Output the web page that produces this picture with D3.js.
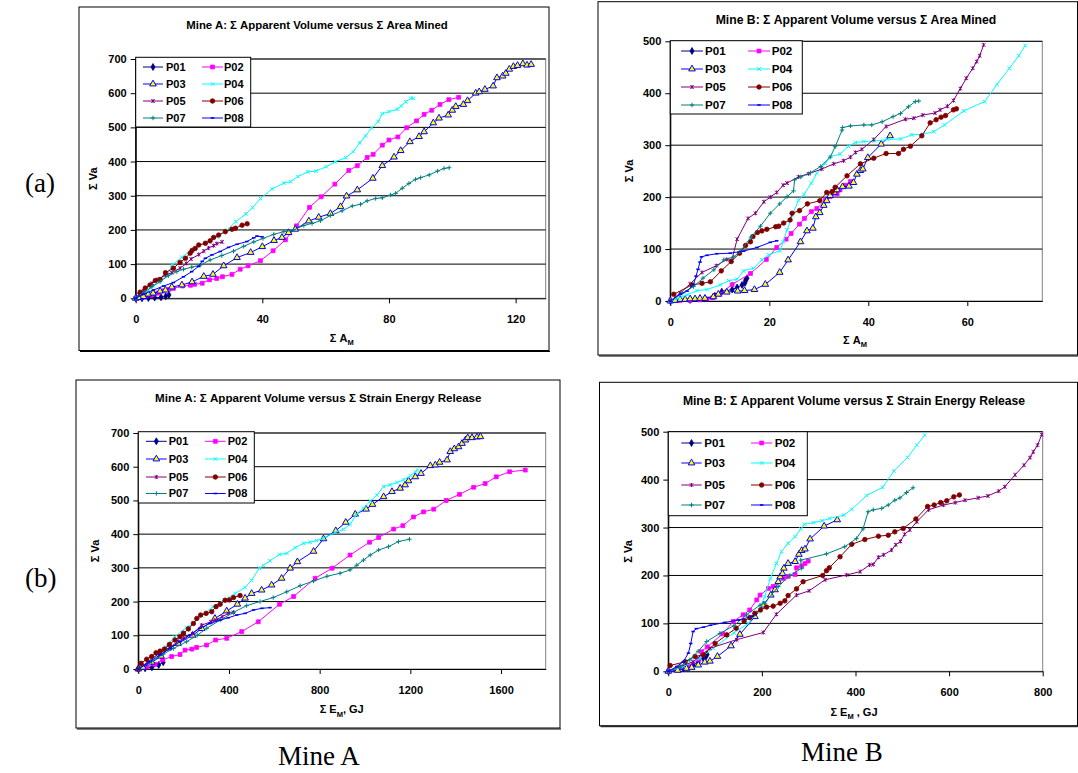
<!DOCTYPE html>
<html>
<head>
<meta charset="utf-8">
<script src="https://cdn.jsdelivr.net/npm/d3@7"></script>
<style>
body { margin: 0; background: #fff; }
svg { display: block; font-family: "Liberation Sans", Arial, sans-serif; }
</style>
</head>
<body>
<script>
// series names (same 8 panels in every chart)
var seriesNames = ["P01", "P02", "P03", "P04", "P05", "P06", "P07", "P08"];

// tick labels
var yTicksMineA = [0, 100, 200, 300, 400, 500, 600, 700];
var yTicksMineB = [0, 100, 200, 300, 400, 500];
var xTicksAreaA = [0, 40, 80, 120];
var xTicksAreaB = [0, 20, 40, 60];
var xTicksEnergyA = [0, 400, 800, 1200, 1600];
var xTicksEnergyB = [0, 200, 400, 600, 800];

// Mine A: cumulative apparent volume vs cumulative area mined
var mineA_area_P01 = [[0,0],[2,0],[4,1],[6,2],[8,3],[9.5,6],[10.5,10]];
var mineA_area_P02 = [[0,0],[1.5,2],[3,4],[5.2,10],[7,15],[8.8,22],[10.5,26],[11.9,29],[14.8,36],[17.3,38],[18.6,41],[21,44],[23.3,54],[25.6,58],[27.4,63],[30.4,70],[33,85],[35.5,95],[39.4,110],[43.4,139],[47.3,171],[50.8,212],[54.9,266],[58.6,297],[62.9,334],[67.3,374],[70,388],[73.1,412],[75,421],[77.9,448],[80,463],[82.8,472],[85.6,499],[88.7,519],[91.1,538],[93.5,550],[96.1,567],[98.9,581],[102,588]];
var mineA_area_P03 = [[0,0],[1,2],[2.5,5],[4,12],[5.5,15],[7.7,21],[9.4,24],[11.4,33],[14.6,39],[17.8,48],[21.5,64],[24.4,70],[27.8,95],[32,119],[36.3,134],[40,151],[43.7,169],[46.2,178],[48.3,192],[50.4,202],[54.7,226],[57.8,237],[61.5,248],[64.7,268],[66.6,299],[70,317],[74.9,351],[77.9,388],[81.6,413],[83.7,432],[86.6,458],[89.5,473],[91.1,487],[94,513],[95.8,527],[98.7,536],[100,550],[101.1,561],[103.5,567],[104.8,578],[107.4,600],[108.5,604],[110.3,611],[112.9,621],[114.1,645],[115.9,650],[116.9,658],[118,670],[119.3,678],[120.6,681],[122.3,686],[123.6,682],[124.9,684]];
var mineA_area_P04 = [[0,0],[1.5,8],[3.5,19],[5.5,35],[7.7,49],[9.8,68],[11.5,97],[14.6,120],[18.3,146],[22,162],[25.6,180],[28.8,199],[31.6,224],[34.8,247],[36.9,265],[39.4,292],[43.1,320],[46.8,337],[48.9,341],[51.2,356],[54.4,370],[56.9,372],[60.2,385],[62.9,399],[66.3,411],[68.7,429],[70.8,455],[72.6,475],[74.5,498],[76.6,517],[77.9,540],[80,546],[82.6,553],[83.9,563],[85.3,575],[86.9,585],[87.7,585]];
var mineA_area_P05 = [[0,0],[1,10],[2.5,22],[5.2,44],[7,55],[9.4,68],[11.4,75],[14,88],[16,102],[17.5,115],[19.9,128],[21.5,138],[23,147],[24.6,154],[25.6,160],[27.3,165]];
var mineA_area_P06 = [[1.4,18],[3,30],[4.5,39],[6.2,52],[7.7,55],[9.4,75],[11.9,88],[14,105],[15.7,117],[17.2,132],[17.8,140],[18.8,146],[19.9,156],[22,161],[23.5,168],[24.6,178],[26.2,185],[28.3,195],[30.4,202],[31.5,205],[33.6,214],[35.2,218]];
var mineA_area_P07 = [[0,0],[2.4,15],[5.1,34],[7.7,49],[10.3,66],[13,78],[15.1,85],[17.7,91],[20.4,97],[23.5,112],[27.2,125],[30.9,138],[34.1,152],[37.3,165],[40.2,175],[43.6,187],[46.8,195],[49.9,200],[53.1,213],[55.7,219],[58.4,227],[61.5,242],[65.2,256],[68.4,270],[71,275],[73.1,285],[75.8,292],[77.9,294],[80.5,302],[82.1,307],[84.2,322],[86.3,336],[88.4,348],[90,353],[92.7,361],[95.3,372],[97.4,380],[99,382]];
var mineA_area_P08 = [[0,0],[2.4,12],[5.6,24],[8.8,36],[11.9,46],[15.1,63],[17.7,78],[19.8,93],[21,108],[22,117],[24.1,127],[26.7,137],[29.3,149],[32,158],[35.1,166],[37.3,177],[38.3,182],[39.9,180]];

// Mine B: cumulative apparent volume vs cumulative area mined
var mineB_area_P01 = [[0,0],[4,2],[7,5],[9,10],[10.4,18],[12.5,22],[13.5,26],[14.5,31],[15.1,35],[15.2,40],[15.5,44]];
var mineB_area_P02 = [[0,0],[2,1],[4,1],[6,2],[7.4,4],[8.5,6],[10,13],[12.5,32],[16.2,53],[19.4,80],[21.5,103],[23.4,119],[24.4,130],[26.1,148],[27.1,159],[28.5,172],[29.6,178],[31.3,194],[32.3,201],[33.7,206],[34.3,214],[35.4,223],[36.4,230]];
var mineB_area_P03 = [[0,0],[1,1],[2,3],[3,3],[4,4],[5,4],[6,5],[7,5],[8.7,8],[9.7,13],[11.4,17],[13.6,19],[15,20],[17,22],[19.2,32],[22.1,55],[23.8,79],[26.3,114],[27.6,135],[28.8,140],[29.4,162],[30.2,170],[31,184],[31.6,193],[32.3,203],[33.1,209],[33.7,214],[34.8,220],[36.1,221],[37,228],[37.7,244],[38.4,251],[38.9,254],[39.9,276],[42.6,302],[44.4,318]];
var mineB_area_P04 = [[0,0],[1.5,5],[3.4,12],[5.4,20],[7.4,22],[10.1,31],[11.8,39],[13.5,42],[14.8,58],[16.8,63],[18.5,79],[19.9,89],[22.2,97],[22.8,114],[23.6,137],[24.6,164],[25.9,194],[27,205],[28.5,227],[29.6,246],[31.3,265],[32.3,278],[34.3,283],[36,298],[37.4,305],[39.1,307],[41.1,308],[43.8,311],[46.5,312],[48.8,320],[51,321],[53.2,326],[55.4,339],[59.3,366],[63.5,384],[66,417],[68.5,448],[70.4,472],[71.7,492]];
var mineB_area_P05 = [[0,0],[2,15],[4,33],[6.4,55],[9.3,68],[11.4,80],[12.4,78],[13.5,119],[15.7,159],[17.2,169],[18.9,191],[20.2,200],[21.5,209],[22.8,223],[23.6,227],[25.9,239],[27.9,245],[30.6,254],[33,264],[35,270],[36.4,277],[37.4,286],[38.7,292],[41.1,311],[43.6,336],[47.5,350],[49.2,352],[51,358],[53.5,362],[54.5,368],[56,375],[57.2,386],[58.6,409],[59.8,429],[61.1,448],[61.9,461],[62.5,472],[63.3,493]];
var mineB_area_P06 = [[0.7,13],[4.4,31],[6.4,34],[8.1,37],[10.3,58],[12.3,76],[14,92],[15.2,107],[16.2,114],[16.7,124],[17.6,132],[18.5,135],[19.5,138],[21.3,143],[21.9,144],[22.9,150],[24.2,156],[24.6,169],[26.1,174],[27.7,187],[30.2,193],[31.6,209],[32.7,211],[33.3,219],[35.7,241],[38.4,264],[41.1,275],[43.6,284],[46.1,284],[47.1,292],[48.5,298],[50.8,318],[52.5,343],[53.7,349],[54.7,354],[55.6,357],[57.2,368],[57.8,370]];
var mineB_area_P07 = [[0,0],[2.4,15],[4.7,28],[6.6,44],[8.8,60],[10.8,79],[12.8,85],[14.1,95],[16.3,123],[18.2,144],[20.2,169],[22.1,187],[23.6,201],[24.9,212],[25.1,233],[26.4,239],[28.3,247],[30.4,259],[32.3,277],[33.3,297],[34.7,329],[34.8,334],[36.4,337],[39.1,339],[40.7,339],[42.8,345],[45,355],[46.5,361],[48.1,374],[49.5,384],[50.2,385]];
var mineB_area_P08 = [[0,0],[2,13],[3.4,19],[4.7,32],[5.2,48],[5.6,61],[6,75],[6.3,85],[7.4,88],[9.4,91],[12.1,92],[14.8,96],[17.5,103],[20.2,113],[21.5,116]];

// Mine A: cumulative apparent volume vs cumulative strain energy release (GJ)
var mineA_energy_P01 = [[0,0],[30,2],[60,5],[90,12],[110,20]];
var mineA_energy_P02 = [[0,0],[37,6],[74,14],[107,27],[147,37],[184,43],[206,56],[236,59],[257,64],[301,71],[341,86],[390,91],[456,111],[529,140],[623,192],[685,215],[780,269],[855,299],[934,338],[1020,376],[1060,390],[1126,415],[1167,425],[1214,451],[1258,466],[1303,474],[1358,500],[1417,518],[1479,539],[1530,550],[1579,570],[1638,585],[1707,590]];
var mineA_energy_P03 = [[0,0],[20,5],[60,20],[100,38],[132,62],[176,76],[240,100],[280,120],[338,150],[390,172],[437,192],[471,210],[500,224],[544,234],[588,249],[632,269],[670,299],[702,318],[773,349],[817,386],[871,410],[915,435],[957,459],[1005,474],[1033,488],[1082,511],[1119,526],[1155,536],[1177,546],[1192,558],[1222,570],[1247,580],[1288,603],[1310,605],[1329,613],[1362,620],[1376,645],[1394,653],[1413,659],[1428,669],[1443,679],[1453,686],[1472,686],[1494,688],[1509,689]];
var mineA_energy_P04 = [[0,0],[40,18],[80,40],[120,65],[160,95],[213,124],[243,135],[280,158],[330,185],[380,205],[427,224],[471,242],[500,263],[534,299],[552,307],[581,321],[623,340],[655,343],[692,360],[729,373],[758,376],[787,381],[817,388],[868,405],[905,414],[934,429],[961,457],[993,477],[1023,498],[1052,516],[1082,541],[1111,546],[1141,553],[1170,561],[1200,573],[1222,585],[1232,590]];
var mineA_energy_P05 = [[0,0],[40,20],[90,45],[140,65],[200,92],[240,105],[279,130],[320,140],[338,145],[370,155],[397,165],[419,168]];
var mineA_energy_P06 = [[0,0],[12,17],[37,29],[59,37],[78,48],[96,53],[115,59],[137,73],[162,86],[184,96],[199,106],[221,119],[243,135],[258,150],[275,160],[299,165],[324,170],[343,185],[361,192],[383,204],[402,205],[420,212],[449,218]];
var mineA_energy_P07 = [[0,0],[59,22],[110,44],[155,61],[213,81],[260,100],[302,121],[361,145],[420,168],[478,188],[537,200],[595,212],[655,229],[714,247],[773,261],[832,275],[890,284],[934,294],[964,308],[993,323],[1023,338],[1060,353],[1104,363],[1148,378],[1196,385]];
var mineA_energy_P08 = [[0,0],[52,22],[96,42],[140,61],[184,81],[228,101],[272,121],[316,135],[361,145],[397,152],[434,160],[471,165],[508,175],[545,180],[581,182]];

// Mine B: cumulative apparent volume vs cumulative strain energy release (GJ)
var mineB_energy_P01 = [[0,0],[32,6],[53,13],[64,19],[75,27],[80,30],[83,35]];
var mineB_energy_P02 = [[0,0],[20,3],[45,10],[65,25],[71,41],[83,51],[116,78],[139,104],[160,118],[174,128],[189,149],[196,159],[214,173],[224,177],[246,194],[256,198],[271,202],[274,216],[285,220],[292,225],[299,230]];
var mineB_energy_P03 = [[0,0],[20,2],[39,6],[50,8],[64,13],[78,19],[89,21],[105,31],[134,53],[153,77],[185,114],[203,138],[219,159],[228,170],[235,187],[239,197],[244,204],[247,215],[256,225],[271,229],[279,244],[285,252],[292,255],[303,276],[333,303],[361,316]];
var mineB_energy_P04 = [[0,0],[32,10],[68,27],[96,48],[140,80],[171,100],[192,124],[206,156],[218,193],[231,225],[242,250],[256,267],[271,281],[283,297],[291,307],[310,310],[328,314],[345,319],[375,326],[392,338],[424,367],[458,384],[482,418],[511,446],[531,472],[548,493]];
var mineB_energy_P05 = [[0,0],[25,10],[53,20],[89,48],[146,66],[203,81],[231,119],[274,159],[301,168],[335,191],[381,201],[410,208],[430,222],[438,223],[449,238],[460,243],[477,253],[486,264],[496,271],[505,286],[516,295],[531,312],[556,337],[588,347],[613,352],[634,357],[662,362],[683,366],[706,376],[719,385],[741,410],[760,430],[773,446],[780,458],[789,472],[798,494]];
var mineB_energy_P06 = [[4,12],[36,20],[57,31],[75,34],[100,58],[125,76],[145,90],[162,105],[174,112],[185,121],[197,128],[210,134],[224,136],[239,142],[249,147],[256,158],[274,172],[288,187],[330,200],[338,210],[344,216],[367,239],[392,265],[420,275],[449,282],[470,284],[484,291],[502,298],[529,318],[554,344],[568,347],[582,352],[595,356],[610,364],[622,368]];
var mineB_energy_P07 = [[0,0],[25,10],[46,24],[64,42],[82,62],[110,79],[140,95],[167,118],[196,138],[206,142],[235,177],[260,200],[285,215],[283,232],[338,245],[377,260],[402,277],[416,297],[427,333],[438,337],[456,340],[470,347],[484,357],[495,362],[509,373],[523,383]];
var mineB_energy_P08 = [[0,0],[18,10],[32,20],[43,38],[48,58],[53,83],[60,89],[75,92],[90,96],[121,102],[150,107],[180,115]];

var width = 1078, height = 773;

var svg = d3.select("body").append("svg")
    .attr("width", width)
    .attr("height", height);

// custom stroke markers (Excel style x, star, plus, dash)
var symX = { draw: function (c, s) { var r = Math.sqrt(s) / 2; c.moveTo(-r, -r); c.lineTo(r, r); c.moveTo(r, -r); c.lineTo(-r, r); } };
var symStar = { draw: function (c, s) { var r = Math.sqrt(s) / 2; c.moveTo(-r, -r); c.lineTo(r, r); c.moveTo(r, -r); c.lineTo(-r, r); c.moveTo(0, -r * 1.2); c.lineTo(0, r * 1.2); } };
var symPlus = { draw: function (c, s) { var r = Math.sqrt(s) / 2; c.moveTo(-r, 0); c.lineTo(r, 0); c.moveTo(0, -r); c.lineTo(0, r); } };
var symDash = { draw: function (c, s) { var r = Math.sqrt(s) / 2; c.moveTo(-r, 0); c.lineTo(r, 0); } };

var seriesStyle = [
    { color: "#000080", type: d3.symbolDiamond, size: 14, fill: "#000080", mstroke: "#000080", sw: 0.8 },
    { color: "#FF00FF", type: d3.symbolSquare, size: 15, fill: "#FF00FF", mstroke: "#FF00FF", sw: 0.8 },
    { color: "#0000FF", type: d3.symbolTriangle, size: 19, fill: "#FFFF00", mstroke: "#0000FF", sw: 1 },
    { color: "#00FFFF", type: symX, size: 13, fill: "none", mstroke: "#00FFFF", sw: 1 },
    { color: "#800080", type: symStar, size: 12, fill: "none", mstroke: "#800080", sw: 1 },
    { color: "#800000", type: d3.symbolCircle, size: 16, fill: "#800000", mstroke: "#800000", sw: 0.8 },
    { color: "#008080", type: symPlus, size: 20, fill: "none", mstroke: "#008080", sw: 1 },
    { color: "#0000FF", type: symDash, size: 12, fill: "none", mstroke: "#0000FF", sw: 1.6 }
];

var panels = [
    {
        data: [mineA_area_P01, mineA_area_P02, mineA_area_P03, mineA_area_P04, mineA_area_P05, mineA_area_P06, mineA_area_P07, mineA_area_P08],
        box: [79, 7, 549, 350.5], plot: [135.7, 59, 545.7, 298.3],
        xDomain: [0, 129.5], xTicks: xTicksAreaA, yDomain: [0, 700], yTicks: yTicksMineA,
        title: "Mine A: \u03a3 Apparent Volume versus \u03a3 Area Mined", titleXY: [317, 25], titleW: 262,
        xLabel: ["\u03a3 A", "M", ""], xLabelXY: [341.7, 338], yLabelXY: [93, 178.7],
        legend: { box: [135.7, 57.3, 250.7, 127], rows: [67, 84, 101, 118], c1: [143, 163, 166], c2: [202, 223, 224], fs: 11 },
        tickFs: 11
    },
    {
        data: [mineB_area_P01, mineB_area_P02, mineB_area_P03, mineB_area_P04, mineB_area_P05, mineB_area_P06, mineB_area_P07, mineB_area_P08],
        box: [598, 1.7, 1077.5, 355], plot: [670.3, 41.3, 1042.3, 301],
        xDomain: [0, 75.15], xTicks: xTicksAreaB, yDomain: [0, 500], yTicks: yTicksMineB,
        title: "Mine B: \u03a3 Apparent Volume versus \u03a3 Area Mined", titleXY: [856, 20], titleW: 281,
        xLabel: ["\u03a3 A", "M", ""], xLabelXY: [855, 340], yLabelXY: [628.7, 171],
        legend: { box: [670.3, 40.7, 802.3, 114], rows: [51, 69, 87, 105], c1: [681, 703, 705], c2: [748, 770, 771.7], fs: 11.6 },
        tickFs: 11
    },
    {
        data: [mineA_energy_P01, mineA_energy_P02, mineA_energy_P03, mineA_energy_P04, mineA_energy_P05, mineA_energy_P06, mineA_energy_P07, mineA_energy_P08],
        box: [76, 380, 560, 728], plot: [138.3, 433, 545.7, 669],
        xDomain: [0, 1797], xTicks: xTicksEnergyA, yDomain: [0, 700], yTicks: yTicksMineA,
        title: "Mine A: \u03a3 Apparent Volume versus \u03a3 Strain Energy Release", titleXY: [318.3, 398.3], titleW: 326.7,
        xLabel: ["\u03a3 E", "M", ", GJ"], xLabelXY: [341.7, 709.3], yLabelXY: [95, 551],
        legend: { box: [138.3, 431.7, 254.3, 503], rows: [441.3, 459, 477, 493.5], c1: [146, 166.7, 168.7], c2: [205, 225.7, 227.7], fs: 11 },
        tickFs: 11
    },
    {
        data: [mineB_energy_P01, mineB_energy_P02, mineB_energy_P03, mineB_energy_P04, mineB_energy_P05, mineB_energy_P06, mineB_energy_P07, mineB_energy_P08],
        box: [599.5, 382.3, 1077.5, 725.7], plot: [668.3, 431.7, 1042.7, 671.3],
        xDomain: [0, 800], xTicks: xTicksEnergyB, yDomain: [0, 500], yTicks: yTicksMineB,
        title: "Mine B: \u03a3 Apparent Volume versus \u03a3 Strain Energy Release", titleXY: [854, 401], titleW: 342.7,
        xLabel: ["\u03a3 E", "M", " , GJ"], xLabelXY: [854, 711.7], yLabelXY: [628.3, 551.5],
        legend: { box: [668.3, 431.7, 807.3, 515.7], rows: [443, 463, 485, 505], c1: [681.3, 701.7, 704.3], c2: [751, 772.3, 774.7], fs: 11.6 },
        tickFs: 11
    }
];

function fitWidth(sel, target) {
    var w = sel.node().getComputedTextLength();
    var fs = parseFloat(sel.attr("font-size"));
    if (w > 0) sel.attr("font-size", fs * target / w);
}

function drawMarkers(g, pts, st) {
    g.selectAll("path.m")
        .data(pts)
        .enter().append("path")
        .attr("class", "m")
        .attr("transform", function (d) { return "translate(" + d[0] + "," + d[1] + ")"; })
        .attr("d", d3.symbol().type(st.type).size(st.size))
        .style("fill", st.fill)
        .style("stroke", st.mstroke)
        .style("stroke-width", st.sw);
}

panels.forEach(function (p) {
    var g = svg.append("g");

    // chart area frame
    g.append("rect")
        .attr("x", p.box[0]).attr("y", p.box[1])
        .attr("width", p.box[2] - p.box[0]).attr("height", p.box[3] - p.box[1])
        .style("fill", "#fff").style("stroke", "#000").style("stroke-width", 1);
    g.append("line")
        .attr("x1", p.box[0] + 1).attr("x2", p.box[2] + 1)
        .attr("y1", p.box[3] + 1).attr("y2", p.box[3] + 1)
        .style("stroke", "#000").style("stroke-width", 1);

    var x = d3.scaleLinear().domain(p.xDomain).range([p.plot[0], p.plot[2]]);
    var y = d3.scaleLinear().domain(p.yDomain).range([p.plot[3], p.plot[1]]);

    // plot area border
    g.append("rect")
        .attr("x", p.plot[0]).attr("y", p.plot[1])
        .attr("width", p.plot[2] - p.plot[0]).attr("height", p.plot[3] - p.plot[1])
        .style("fill", "#fff").style("stroke", "#808080").style("stroke-width", 1);

    // gridlines
    g.selectAll("line.grid")
        .data(p.yTicks.slice(1))
        .enter().append("line")
        .attr("class", "grid")
        .attr("x1", p.plot[0]).attr("x2", p.plot[2])
        .attr("y1", function (d) { return y(d); }).attr("y2", function (d) { return y(d); })
        .style("stroke", "#000").style("stroke-width", 1);

    // axes
    var fmt = d3.format("d");
    var yAxis = d3.axisLeft(y).tickValues(p.yTicks).tickFormat(fmt).tickSize(5).tickPadding(4).tickSizeOuter(0);
    var xAxis = d3.axisBottom(x).tickValues(p.xTicks).tickFormat(fmt).tickSize(5).tickPadding(12).tickSizeOuter(0);

    var ya = g.append("g").attr("transform", "translate(" + p.plot[0] + ",0)").call(yAxis);
    var xa = g.append("g").attr("transform", "translate(0," + p.plot[3] + ")").call(xAxis);
    [ya, xa].forEach(function (a) {
        a.select(".domain").style("stroke", "#000").style("stroke-width", 1);
        a.selectAll(".tick line").style("stroke", "#000");
        a.selectAll("text")
            .attr("fill", "#000")
            .style("font-family", "'Liberation Sans', Arial, sans-serif")
            .style("font-size", p.tickFs + "px")
            .style("font-weight", "bold");
    });
    ya.append("line").attr("x1", 0).attr("x2", 0).attr("y1", p.plot[1]).attr("y2", p.plot[3]).style("stroke", "#000");

    // series
    p.data.forEach(function (pts, i) {
        var st = seriesStyle[i];
        var line = d3.line().x(function (d) { return x(d[0]); }).y(function (d) { return y(d[1]); });
        g.append("path")
            .datum(pts)
            .attr("d", line)
            .style("fill", "none")
            .style("stroke", st.color)
            .style("stroke-width", 1);
        var sg = g.append("g");
        drawMarkers(sg, pts.map(function (d) { return [x(d[0]), y(d[1])]; }), st);
    });

    // legend
    var L = p.legend;
    var lg = g.append("g");
    lg.append("rect")
        .attr("x", L.box[0]).attr("y", L.box[1])
        .attr("width", L.box[2] - L.box[0]).attr("height", L.box[3] - L.box[1])
        .style("fill", "#fff").style("stroke", "#000").style("stroke-width", 1);
    seriesNames.forEach(function (name, i) {
        var col = i % 2 === 0 ? L.c1 : L.c2;
        var ry = L.rows[Math.floor(i / 2)];
        var st = seriesStyle[i];
        lg.append("line")
            .attr("x1", col[0]).attr("x2", col[1]).attr("y1", ry).attr("y2", ry)
            .style("stroke", st.color).style("stroke-width", 1);
        drawMarkers(lg.append("g"), [[(col[0] + col[1]) / 2, ry]], st);
        lg.append("text")
            .attr("x", col[2]).attr("y", ry)
            .attr("dy", "0.36em")
            .attr("font-size", L.fs)
            .style("font-weight", "bold")
            .text(name);
    });

    // title
    var t = g.append("text")
        .attr("x", p.titleXY[0]).attr("y", p.titleXY[1])
        .attr("dy", "0.36em")
        .attr("text-anchor", "middle")
        .attr("font-size", 10)
        .style("font-weight", "bold")
        .text(p.title);
    fitWidth(t, p.titleW);

    // axis titles
    g.append("text")
        .attr("transform", "translate(" + p.yLabelXY[0] + "," + p.yLabelXY[1] + ") rotate(-90)")
        .attr("dy", "0.36em")
        .attr("text-anchor", "middle")
        .attr("font-size", 11)
        .style("font-weight", "bold")
        .text("\u03a3 Va");

    var xl = g.append("text")
        .attr("x", p.xLabelXY[0]).attr("y", p.xLabelXY[1])
        .attr("dy", "0.36em")
        .attr("text-anchor", "middle")
        .attr("font-size", 11)
        .style("font-weight", "bold");
    xl.append("tspan").text(p.xLabel[0]);
    xl.append("tspan").attr("font-size", 7.5).attr("dy", "0.45em").text(p.xLabel[1]);
    if (p.xLabel[2]) xl.append("tspan").attr("dy", "-0.3em").text(p.xLabel[2]);
});

// figure annotations
var serif = "'Liberation Serif', 'Times New Roman', serif";
[["(a)", 25, 192, "start"], ["(b)", 25, 587, "start"], ["Mine A", 319, 765, "middle"], ["Mine B", 842, 761, "middle"]]
    .forEach(function (d) {
        svg.append("text")
            .attr("x", d[1]).attr("y", d[2])
            .attr("text-anchor", d[3])
            .style("font-family", serif)
            .style("font-size", "27px")
            .text(d[0]);
    });
</script>
</body>
</html>
